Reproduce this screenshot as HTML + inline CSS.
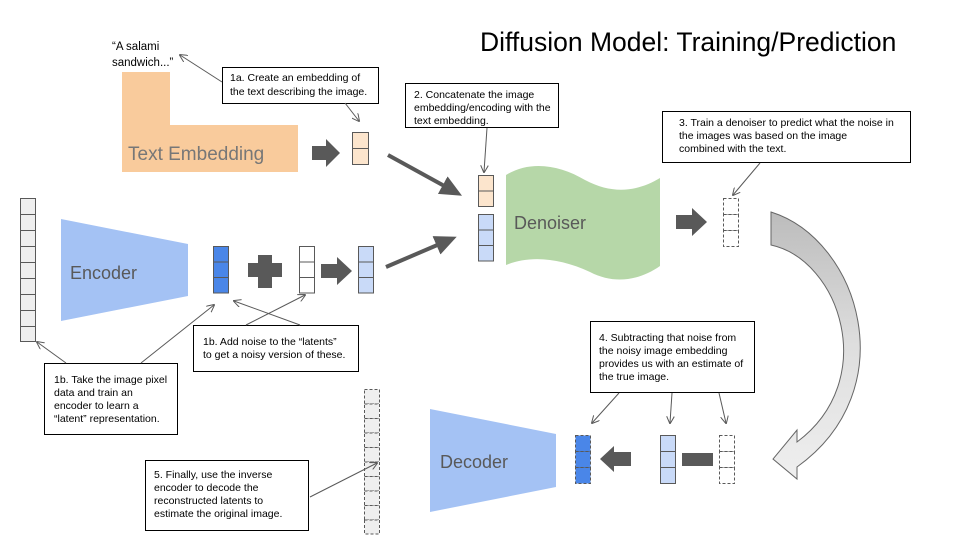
<!DOCTYPE html>
<html><head><meta charset="utf-8"><style>
html,body{margin:0;padding:0;background:#fff;}
svg{display:block;font-family:"Liberation Sans",Arial,sans-serif;}
.c{fill:#000;font-size:10.5px;}
</style></head><body>
<svg width="960" height="540" viewBox="0 0 960 540" xmlns="http://www.w3.org/2000/svg">
<defs>
<marker id="a" markerWidth="8" markerHeight="8" refX="7" refY="4" orient="auto" markerUnits="userSpaceOnUse"><path d="M0,0 L8,4 L0,8" fill="none" stroke="#595959" stroke-width="1"/></marker>
<marker id="b" markerWidth="24" markerHeight="24" refX="6" refY="12" orient="auto" markerUnits="userSpaceOnUse"><path d="M0,2 L22,12 L0,22 Z" fill="#595959"/></marker>
<linearGradient id="g" x1="0" y1="0" x2="0" y2="1"><stop offset="0" stop-color="#bcbcbc"/><stop offset="0.5" stop-color="#dedede"/><stop offset="1" stop-color="#efefef"/></linearGradient>
</defs>
<text x="480" y="51" font-size="26.5" fill="#000">Diffusion Model: Training/Prediction</text>
<text x="112" y="50" font-size="11.5" fill="#000">“A salami</text>
<text x="112" y="66" font-size="11.5" fill="#000">sandwich...”</text>
<path d="M122,72 H170 V125 H298 V172 H122 Z" fill="#f9cb9c"/>
<text x="128" y="160" font-size="19" fill="#777">Text Embedding</text>
<path d="M312,146 H326 V139 L340,153 L326,167 V160 H312 Z" fill="#595959"/>
<g stroke="#595959" fill="#fce5cd"><rect x="352.5" y="132.5" width="16" height="16"/><rect x="352.5" y="148.5" width="16" height="16"/></g>
<rect x="222.5" y="67.5" width="156" height="36" fill="#fff" stroke="#000"/>
<text class="c" x="230" y="81">1a. Create an embedding of</text>
<text class="c" x="230" y="95">the text describing the image.</text>
<line x1="222" y1="82" x2="180" y2="55" stroke="#595959" marker-end="url(#a)"/>
<line x1="345" y1="103" x2="359" y2="121" stroke="#595959" marker-end="url(#a)"/>
<line x1="388" y1="155" x2="448" y2="188" stroke="#595959" stroke-width="4" marker-end="url(#b)"/>
<line x1="386" y1="267" x2="442" y2="243" stroke="#595959" stroke-width="4" marker-end="url(#b)"/>
<rect x="405.5" y="83.5" width="153" height="44" fill="#fff" stroke="#000"/>
<text class="c" x="414" y="98">2. Concatenate the image</text>
<text class="c" x="414" y="111">embedding/encoding with the</text>
<text class="c" x="414" y="124">text embedding.</text>
<line x1="487" y1="128" x2="484" y2="172" stroke="#595959" marker-end="url(#a)"/>
<g stroke="#595959" fill="#fce5cd"><rect x="478.5" y="175.5" width="15" height="15.5"/><rect x="478.5" y="191" width="15" height="15.5"/></g>
<g stroke="#595959" fill="#c9daf8"><rect x="478.5" y="214.5" width="15" height="15.5"/><rect x="478.5" y="230" width="15" height="15.5"/><rect x="478.5" y="245.5" width="15" height="15.5"/></g>
<path d="M506,175 C530,160 560,165 585,180 C615,196 640,190 660,178 L660,266 C640,280 615,285 590,272 C560,258 530,255 506,265 Z" fill="#b6d7a8"/>
<text x="514" y="229" font-size="18" fill="#595959">Denoiser</text>
<path d="M676,215 H692 V208 L707,222 L692,236 V229 H676 Z" fill="#595959"/>
<g stroke="#595959" fill="#fff" stroke-dasharray="3,2"><rect x="723.5" y="198.5" width="15" height="16"/><rect x="723.5" y="214.5" width="15" height="16"/><rect x="723.5" y="230.5" width="15" height="16"/></g>
<rect x="662.5" y="111.5" width="248" height="51" fill="#fff" stroke="#000"/>
<text class="c" x="679" y="126">3. Train a denoiser to predict what the noise in</text>
<text class="c" x="679" y="139">the images was based on the image</text>
<text class="c" x="679" y="152">combined with the text.</text>
<line x1="760" y1="163" x2="733" y2="195" stroke="#595959" marker-end="url(#a)"/>
<path d="M771,212 C860,240 905,390 797,467 L797,479 L773,459 L797,430 L797,442 C880,380 840,260 771,245 Z" fill="url(#g)" stroke="#666" stroke-width="1"/>
<g stroke="#595959" fill="#efefef">
<rect x="20.5" y="198.5" width="15" height="16"/><rect x="20.5" y="214.5" width="15" height="16"/><rect x="20.5" y="230.5" width="15" height="16"/><rect x="20.5" y="246.5" width="15" height="16"/><rect x="20.5" y="262.5" width="15" height="16"/><rect x="20.5" y="278.5" width="15" height="16"/><rect x="20.5" y="294.5" width="15" height="16"/><rect x="20.5" y="310.5" width="15" height="16"/><rect x="20.5" y="326.5" width="15" height="15"/></g>
<path d="M61,219 L188,244 L188,296 L61,321 Z" fill="#a4c2f4"/>
<text x="70" y="279" font-size="18" fill="#595959">Encoder</text>
<g stroke="#595959" fill="#4a86e8"><rect x="213.5" y="246.5" width="15" height="15.5"/><rect x="213.5" y="262" width="15" height="15.5"/><rect x="213.5" y="277.5" width="15" height="15.5"/></g>
<path d="M258,255 H272 V263 H282 V277 H272 V288 H258 V277 H248 V263 H258 Z" fill="#595959"/>
<g stroke="#595959" fill="#fff"><rect x="299.5" y="246.5" width="15" height="15.5"/><rect x="299.5" y="262" width="15" height="15.5"/><rect x="299.5" y="277.5" width="15" height="15.5"/></g>
<path d="M321,264 H337 V257 L352,271 L337,285 V278 H321 Z" fill="#595959"/>
<g stroke="#595959" fill="#c9daf8"><rect x="358.5" y="246.5" width="15" height="15.5"/><rect x="358.5" y="262" width="15" height="15.5"/><rect x="358.5" y="277.5" width="15" height="15.5"/></g>
<rect x="193.5" y="325.5" width="165" height="46" fill="#fff" stroke="#000"/>
<text class="c" x="203" y="345">1b. Add noise to the “latents”</text>
<text class="c" x="203" y="358">to get a noisy version of these.</text>
<line x1="246" y1="325" x2="305" y2="295" stroke="#595959" marker-end="url(#a)"/>
<line x1="300" y1="325" x2="234" y2="301" stroke="#595959" marker-end="url(#a)"/>
<rect x="44.5" y="363.5" width="133" height="71" fill="#fff" stroke="#000"/>
<text class="c" x="54" y="383">1b. Take the image pixel</text>
<text class="c" x="54" y="396">data and train an</text>
<text class="c" x="54" y="409">encoder to learn a</text>
<text class="c" x="54" y="422">“latent” representation.</text>
<line x1="66" y1="363" x2="37" y2="342" stroke="#595959" marker-end="url(#a)"/>
<line x1="141" y1="363" x2="214" y2="305" stroke="#595959" marker-end="url(#a)"/>
<g stroke="#595959" fill="#efefef" stroke-dasharray="3,2">
<rect x="364.5" y="389.5" width="15" height="14.5"/><rect x="364.5" y="404" width="15" height="14.5"/><rect x="364.5" y="418.5" width="15" height="14.5"/><rect x="364.5" y="433" width="15" height="14.5"/><rect x="364.5" y="447.5" width="15" height="14.5"/><rect x="364.5" y="462" width="15" height="14.5"/><rect x="364.5" y="476.5" width="15" height="14.5"/><rect x="364.5" y="491" width="15" height="14.5"/><rect x="364.5" y="505.5" width="15" height="14.5"/><rect x="364.5" y="520" width="15" height="14"/></g>
<path d="M430,409 L556,434 L556,487 L430,512 Z" fill="#a4c2f4"/>
<text x="440" y="468" font-size="18" fill="#595959">Decoder</text>
<g stroke="#595959" fill="#4a86e8" stroke-dasharray="3,2"><rect x="575.5" y="435.5" width="15" height="16"/><rect x="575.5" y="451.5" width="15" height="16"/><rect x="575.5" y="467.5" width="15" height="16"/></g>
<path d="M631,452 H614 V446 L600,459 L614,472 V466 H631 Z" fill="#595959"/>
<g stroke="#595959" fill="#c9daf8"><rect x="660.5" y="435.5" width="15" height="16"/><rect x="660.5" y="451.5" width="15" height="16"/><rect x="660.5" y="467.5" width="15" height="16"/></g>
<rect x="682" y="453" width="31" height="13" fill="#595959"/>
<g stroke="#595959" fill="#fff" stroke-dasharray="3,2"><rect x="719.5" y="435.5" width="15" height="16"/><rect x="719.5" y="451.5" width="15" height="16"/><rect x="719.5" y="467.5" width="15" height="16"/></g>
<rect x="590.5" y="321.5" width="164" height="71" fill="#fff" stroke="#000"/>
<text class="c" x="599" y="341">4. Subtracting that noise from</text>
<text class="c" x="599" y="354">the noisy image embedding</text>
<text class="c" x="599" y="367">provides us with an estimate of</text>
<text class="c" x="599" y="380">the true image.</text>
<line x1="619" y1="393" x2="592" y2="423" stroke="#595959" marker-end="url(#a)"/>
<line x1="672" y1="393" x2="670" y2="423" stroke="#595959" marker-end="url(#a)"/>
<line x1="719" y1="393" x2="726" y2="423" stroke="#595959" marker-end="url(#a)"/>
<rect x="145.5" y="460.5" width="163" height="70" fill="#fff" stroke="#000"/>
<text class="c" x="154" y="478">5. Finally, use the inverse</text>
<text class="c" x="154" y="491">encoder to decode the</text>
<text class="c" x="154" y="504">reconstructed latents to</text>
<text class="c" x="154" y="517">estimate the original image.</text>
<line x1="310" y1="497" x2="377" y2="463" stroke="#595959" marker-end="url(#a)"/>
</svg>
</body></html>
